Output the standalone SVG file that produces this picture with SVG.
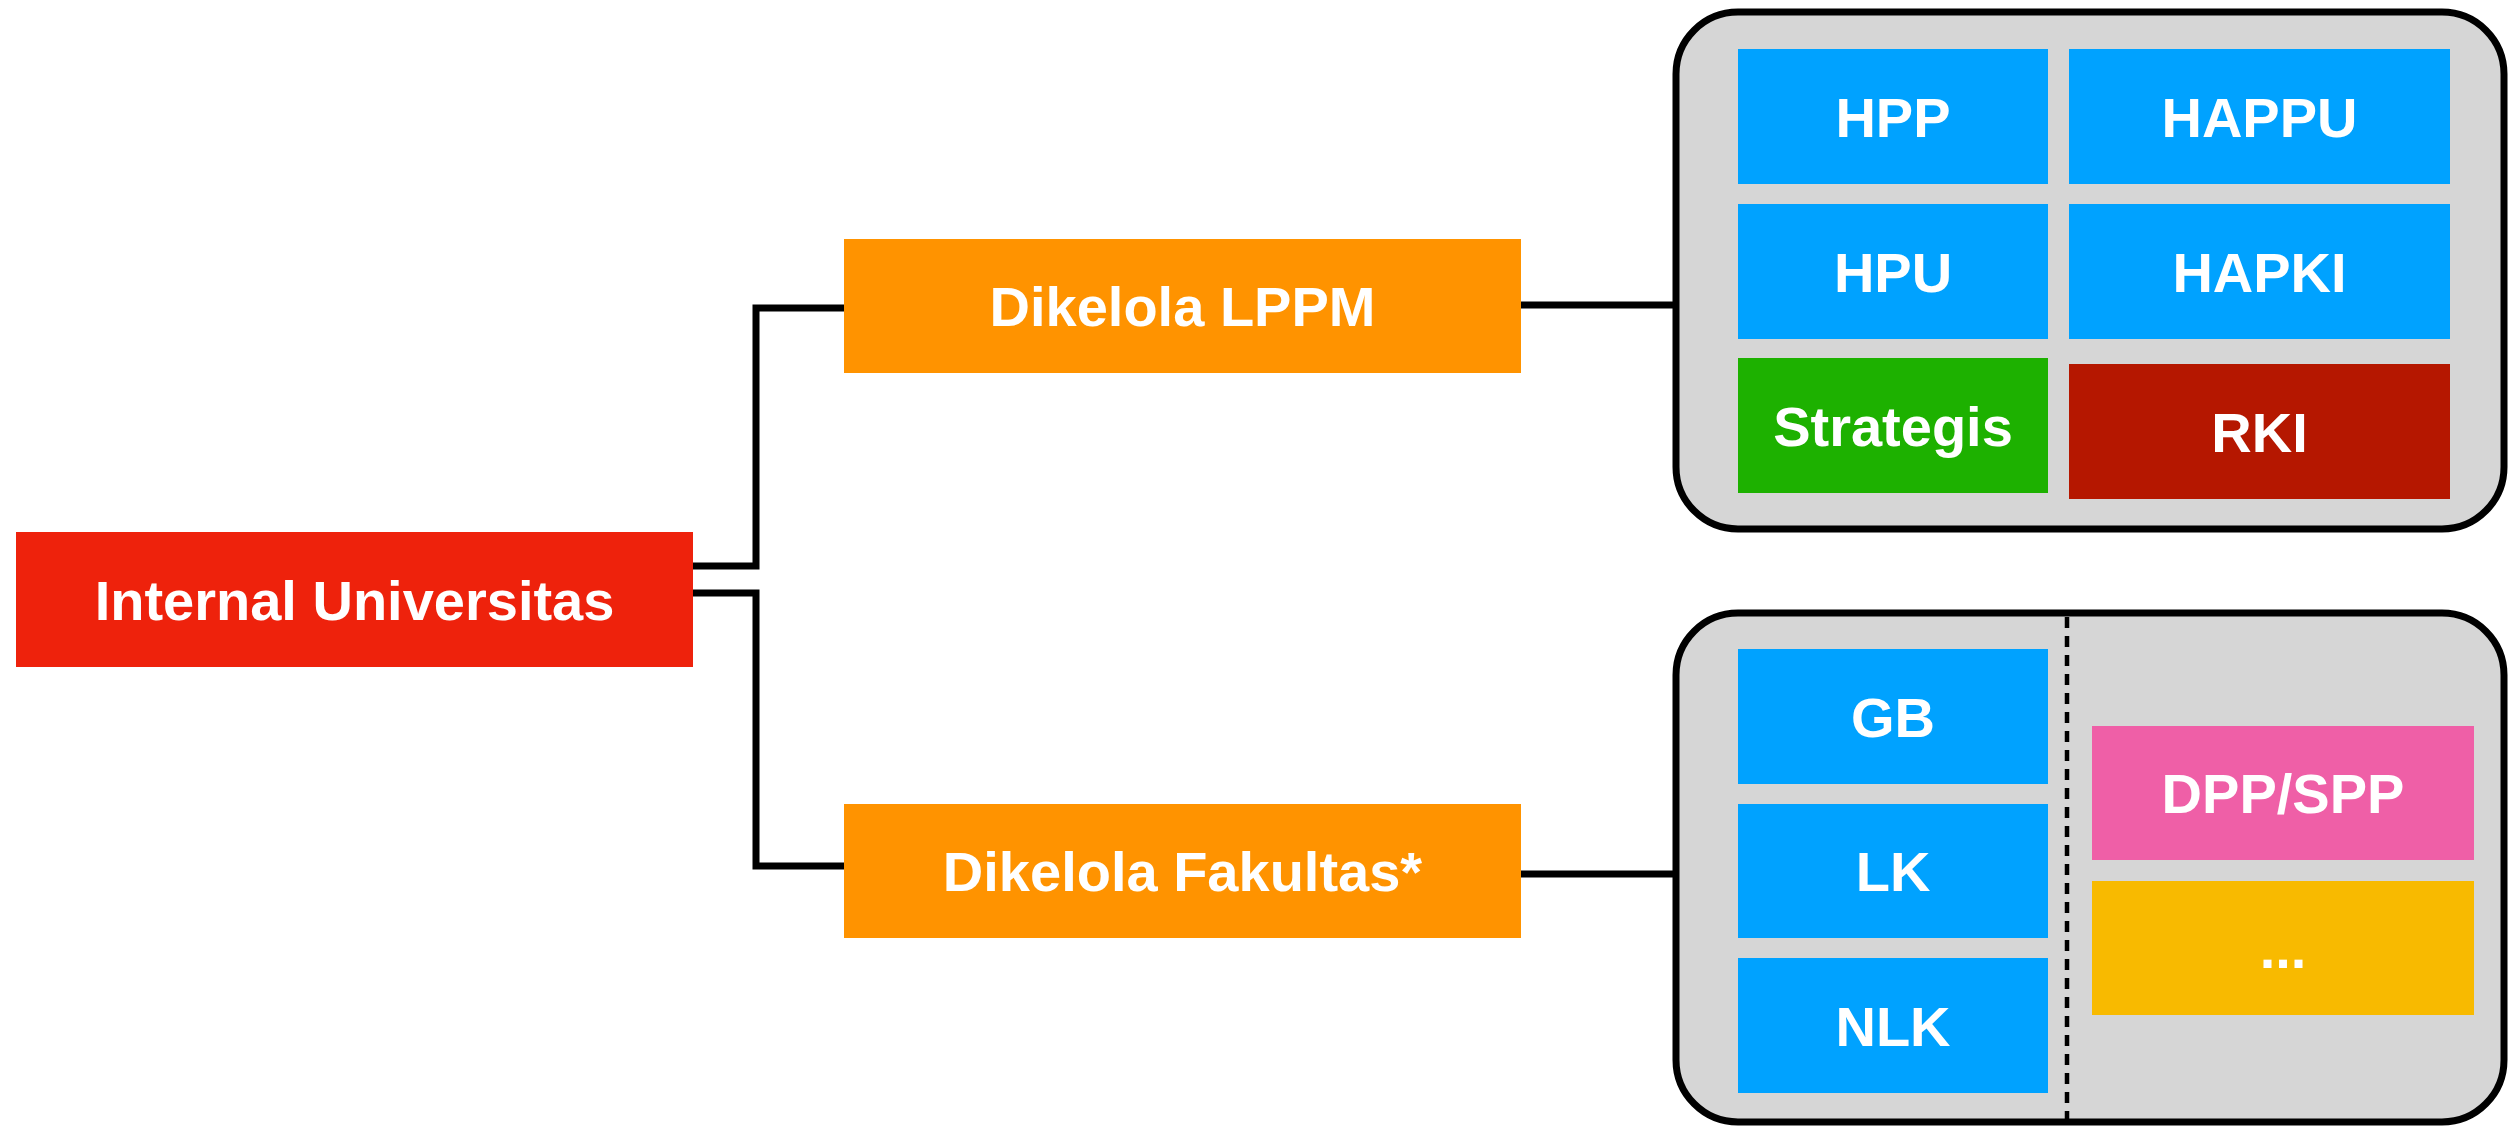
<svg xmlns="http://www.w3.org/2000/svg" width="2520" height="1127" viewBox="0 0 2520 1127">
<style>
.t{font-family:"Liberation Sans",Arial,sans-serif;font-size:56px;font-weight:bold;fill:#fff;text-anchor:middle}
.c{fill:none;stroke:#000;stroke-width:7}
.panel{fill:#D6D6D6;stroke:#000;stroke-width:7}
.blue{fill:#00A2FF}
</style>
<rect width="2520" height="1127" fill="#fff"/>
<g id="connectors">
<polyline class="c" points="693,566 756,566 756,308 844,308"/>
<polyline class="c" points="693,593 756,593 756,866 844,866"/>
<line class="c" x1="1520" y1="305" x2="1676" y2="305"/>
<line class="c" x1="1520" y1="874" x2="1676" y2="874"/>
</g>
<g id="internal-universitas">
<rect x="16" y="532" width="677" height="135" fill="#EE220C"/>
<text class="t" x="354.5" y="620">Internal Universitas</text>
</g>
<g id="dikelola-lppm">
<rect x="844" y="239" width="677" height="134" fill="#FF9300"/>
<text class="t" x="1182.5" y="326">Dikelola LPPM</text>
</g>
<g id="dikelola-fakultas">
<rect x="844" y="804" width="677" height="134" fill="#FF9300"/>
<text class="t" x="1182.5" y="891">Dikelola Fakultas*</text>
</g>
<g id="panel-lppm">
<rect class="panel" x="1676" y="12" width="828" height="517" rx="62" ry="62"/>
<g id="hpp"><rect class="blue" x="1738" y="49" width="310" height="135"/><text class="t" x="1893" y="137">HPP</text></g>
<g id="happu"><rect class="blue" x="2069" y="49" width="381" height="135"/><text class="t" x="2259.5" y="137">HAPPU</text></g>
<g id="hpu"><rect class="blue" x="1738" y="204" width="310" height="135"/><text class="t" x="1893" y="292">HPU</text></g>
<g id="hapki"><rect class="blue" x="2069" y="204" width="381" height="135"/><text class="t" x="2259.5" y="292">HAPKI</text></g>
<g id="strategis"><rect x="1738" y="358" width="310" height="135" fill="#1DB100"/><text class="t" x="1893" y="446">Strategis</text></g>
<g id="rki"><rect x="2069" y="364" width="381" height="135" fill="#B51700"/><text class="t" x="2259.5" y="452">RKI</text></g>
</g>
<g id="panel-fakultas">
<rect class="panel" x="1676" y="613" width="828" height="509" rx="62" ry="62"/>
<line x1="2067" y1="617" x2="2067" y2="1127" stroke="#000" stroke-width="4.5" stroke-dasharray="11,8"/>
<g id="gb"><rect class="blue" x="1738" y="649" width="310" height="135"/><text class="t" x="1893" y="737">GB</text></g>
<g id="lk"><rect class="blue" x="1738" y="804" width="310" height="134"/><text class="t" x="1893" y="891">LK</text></g>
<g id="nlk"><rect class="blue" x="1738" y="958" width="310" height="135"/><text class="t" x="1893" y="1046">NLK</text></g>
<g id="dpp-spp"><rect x="2092" y="726" width="382" height="134" fill="#EF5FA7"/><text class="t" x="2283" y="813">DPP/SPP</text></g>
<g id="etc"><rect x="2092" y="881" width="382" height="134" fill="#F8BA00"/><text class="t" x="2283" y="968">...</text></g>
</g>
</svg>
